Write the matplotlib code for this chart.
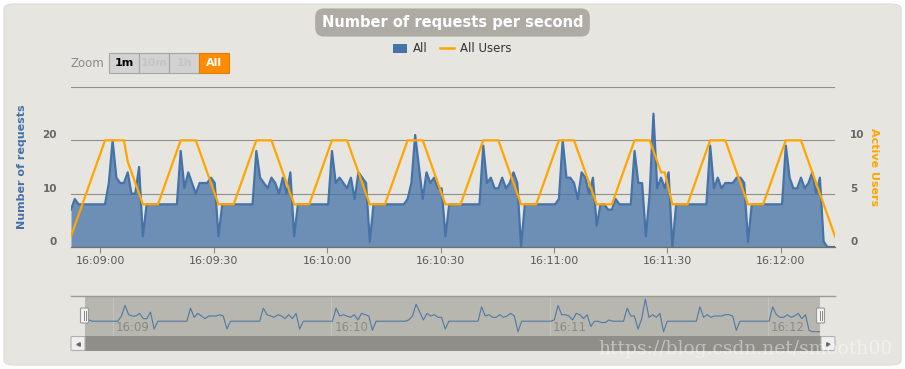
import numpy as np
import matplotlib
matplotlib.use('Agg')
import matplotlib.pyplot as plt
from matplotlib.patches import FancyBboxPatch, Rectangle, Patch
from matplotlib.lines import Line2D
from matplotlib.transforms import ScaledTranslation

# requests per second ("All"), one value per second
requests = [7, 9, 8, 8, 8, 8, 8, 8, 8, 8,
            12, 20, 13, 12, 12, 14, 10, 10, 15, 2,
            8, 8, 8, 8, 8, 8, 8, 8, 8, 18,
            11, 14, 12, 10, 12, 12, 12, 13, 12, 2,
            8, 8, 8, 8, 8, 8, 8, 8, 8, 18,
            13, 12, 11, 13, 12, 10, 13, 10, 14, 2,
            8, 8, 8, 8, 8, 8, 8, 8, 8, 18,
            12, 13, 12, 11, 13, 9, 14, 13, 12, 1,
            8, 8, 8, 8, 8, 8, 8, 8, 8, 9,
            12, 21, 15, 9, 14, 12, 13, 11, 11, 2,
            8, 8, 8, 8, 8, 8, 8, 8, 8, 19,
            12, 13, 11, 11, 13, 11, 12, 14, 12, 0,
            8, 8, 8, 8, 8, 8, 8, 8, 8, 9,
            20, 13, 13, 12, 9, 14, 13, 10, 13, 4,
            8, 8, 7, 7, 9, 8, 8, 8, 8, 18,
            12, 12, 2, 10, 25, 11, 13, 11, 14, 0,
            8, 8, 8, 8, 8, 8, 8, 8, 8, 19,
            11, 13, 11, 12, 12, 12, 13, 13, 12, 1,
            8, 8, 8, 8, 8, 8, 8, 8, 8, 19,
            13, 11, 11, 13, 11, 12, 14, 10, 13, 1,
            0, 0, 0]

# active users ("All Users")
users = [1, 2, 3, 4, 5, 6, 7, 8, 9, 10,
         10, 10, 10, 10, 10, 8, 7, 6, 5, 4,
         4, 4, 4, 4, 5, 6, 7, 8, 9, 10,
         10, 10, 10, 10, 9, 8, 7, 6, 5, 4,
         4, 4, 4, 4, 5, 6, 7, 8, 9, 10,
         10, 10, 10, 10, 9, 8, 7, 6, 5, 4,
         4, 4, 4, 4, 5, 6, 7, 8, 9, 10,
         10, 10, 10, 10, 9, 8, 7, 6, 5, 4,
         4, 4, 4, 4, 5, 6, 7, 8, 9, 10,
         10, 10, 10, 10, 9, 8, 7, 6, 5, 4,
         4, 4, 4, 4, 5, 6, 7, 8, 9, 10,
         10, 10, 10, 10, 9, 8, 7, 6, 5, 4,
         4, 4, 4, 4, 5, 6, 7, 8, 9, 10,
         10, 10, 10, 10, 9, 8, 7, 6, 5, 4,
         4, 4, 4, 4, 5, 6, 7, 8, 9, 10,
         10, 10, 10, 10, 9, 8, 7, 7, 5.5, 4,
         4, 4, 4, 4, 5, 6, 7, 8, 9, 10,
         10, 10, 10, 10, 9, 8, 7, 6, 5, 4,
         4, 4, 4, 4, 5, 6, 7, 8, 9, 10,
         10, 10, 10, 10, 9, 8, 7, 6, 5, 4,
         3, 2, 1]

# seconds relative to 16:09:00 of the first sample
start_offset = -7.7
tick_seconds = [0, 30, 60, 90, 120, 150, 180]
tick_labels = ['16:09:00', '16:09:30', '16:10:00', '16:10:30',
               '16:11:00', '16:11:30', '16:12:00']
nav_seconds = [0, 60, 120, 180]
nav_labels = ['16:09', '16:10', '16:11', '16:12']
left_ticks = [0, 10, 20]
right_ticks = [0, 5, 10]
zoom_buttons = ['1m', '10m', '1h', 'All']

t = start_offset + np.arange(len(requests))

W, H = 905, 369
BG = '#e6e5e0'
BLUE = '#4572a7'
ORANGE = '#ffa500'


def fx(x):
    return x / W


def fy(y):
    return 1 - y / H


fig = plt.figure(figsize=(W / 100, H / 100), dpi=100, facecolor='white')

# card background
fig.add_artist(FancyBboxPatch((fx(4), fy(365)), fx(897), 361 / H,
                              boxstyle='round,pad=0,rounding_size=0.012',
                              transform=fig.transFigure, fc=BG, ec='#dcdbd6', lw=0.8,
                              zorder=-10))

# main chart
ax = fig.add_axes([fx(71), fy(247), 764 / W, 160 / H])
ax.patch.set_visible(False)
ax.fill_between(t, 0, requests, color=BLUE, alpha=0.75, lw=0)
ax.plot(t, requests, color=BLUE, lw=1.6)
ax.set_xlim(t[0], t[-1])
ax.set_ylim(0, 30)
ax.set_yticks(left_ticks + [30])
ax.set_yticklabels([str(v) for v in left_ticks] + [''])
ax.set_xticks(tick_seconds)
ax.set_xticklabels(tick_labels)
ax.yaxis.grid(True, color='#8f8f8f', lw=0.8)
ax.set_axisbelow(True)
for s in ['top', 'left', 'right']:
    ax.spines[s].set_visible(False)
ax.spines['bottom'].set_color('#6e6e6e')
ax.spines['bottom'].set_linewidth(0.9)
ax.tick_params(axis='x', length=4.3, width=0.8, color='#8a8a8a', pad=2,
               labelsize=8, labelcolor='#5a5a5a')
ax.tick_params(axis='y', length=0, pad=10, labelsize=7.5, labelcolor='#666666')
for lbl in ax.get_yticklabels():
    lbl.set_fontweight('bold')
ax.set_ylabel('Number of requests', color=BLUE, fontsize=8, fontweight='bold', labelpad=0)
ax.yaxis.set_label_coords(-(71 - 27) / 764, 0.5)

ax2 = ax.twinx()
ax2.plot(t, users, color=ORANGE, lw=1.6)
ax2.set_ylim(0, 15)
ax2.set_yticks(right_ticks + [15])
ax2.set_yticklabels([str(v) for v in right_ticks] + [''])
for s in ['top', 'left', 'right', 'bottom']:
    ax2.spines[s].set_visible(False)
ax2.tick_params(axis='y', length=0, pad=11, labelsize=7.5, labelcolor='#666666')
for lbl in ax2.get_yticklabels():
    lbl.set_fontweight('bold')
ax2.set_ylabel('Active Users', color=ORANGE, fontsize=8, fontweight='bold', rotation=270)
ax2.yaxis.set_label_coords(1 + (879 - 835) / 764, 0.5)

# y labels sit a little above their grid lines
up = ScaledTranslation(0, 6 / 100, fig.dpi_scale_trans)
for lbl in ax.get_yticklabels() + ax2.get_yticklabels():
    lbl.set_transform(lbl.get_transform() + up)

# title
fig.text(fx(452.5), fy(22.5), 'Number of requests per second', ha='center', va='center',
         fontsize=10.5, fontweight='bold', color='white',
         bbox=dict(boxstyle='round,pad=0.45,rounding_size=0.6', fc='#adaba4', ec='none'))

# legend
handles = [Patch(fc=BLUE, ec='none'), Line2D([], [], color=ORANGE, lw=1.8)]
leg = fig.legend(handles, ['All', 'All Users'], loc='center', bbox_to_anchor=(fx(452), fy(49)),
                 ncol=2, frameon=False, fontsize=8.5, handlelength=1.2, handleheight=0.85,
                 handletextpad=0.5, columnspacing=1.0, borderpad=0)
for txt in leg.get_texts():
    txt.set_color('#333333')

# zoom buttons
fig.text(fx(104), fy(63.5), 'Zoom', ha='right', va='center', fontsize=8.5, color='#8a8a8a')
for i, name in enumerate(zoom_buttons):
    x0 = 109 + i * 30
    active = name == 'All'
    fig.add_artist(Rectangle((fx(x0), fy(73)), 30 / W, 20 / H, transform=fig.transFigure,
                             fc='#ff8c00' if active else '#d2d2d0',
                             ec='#e08000' if active else '#a5a5a3', lw=0.8))
    if active:
        col = 'white'
    elif name == '1m':
        col = 'black'
    else:
        col = '#c4c4c2'
    fig.text(fx(x0 + 15), fy(63), name, ha='center', va='center', fontsize=8,
             fontweight='bold', color=col)

# navigator
nav = fig.add_axes([fx(85), fy(336), 735 / W, 40 / H])
nav.set_facecolor('#b7b6af')
nav.plot(t, requests, color=BLUE, lw=0.8, alpha=0.9)
nav.set_xlim(t[0], t[-1])
nav.set_ylim(-3.3, 27.3)
for s in nav.spines.values():
    s.set_visible(False)
nav.set_xticks([])
nav.set_yticks([])
shift = ScaledTranslation(3 / 100, 0, fig.dpi_scale_trans)
for sec, name in zip(nav_seconds, nav_labels):
    nav.axvline(sec, color='#c3c2bc', lw=0.8, zorder=0)
    nav.text(sec, 0.22, name, transform=nav.get_xaxis_transform() + shift,
             ha='left', va='center', fontsize=8.5, color='#8a8983')

fig.add_artist(Line2D([fx(71), fx(835)], [fy(296), fy(296)], transform=fig.transFigure,
                      color='#9a9a96', lw=1))

# navigator handles
for hx in [84.5, 820.5]:
    fig.add_artist(FancyBboxPatch((fx(hx - 4), fy(323)), 8 / W, 15 / H,
                                  boxstyle='round,pad=0,rounding_size=0.002',
                                  transform=fig.transFigure, fc='#f2f2f2', ec='#999999', lw=0.8))
    for dx in [-1, 1]:
        fig.add_artist(Line2D([fx(hx + dx), fx(hx + dx)], [fy(311), fy(320)],
                              transform=fig.transFigure, color='#888888', lw=0.7))

# scrollbar
fig.add_artist(Rectangle((fx(84), fy(351)), 737 / W, 15 / H, transform=fig.transFigure,
                         fc='#8f8e89', ec='none'))
for bx, mk in [(71, '<'), (821, '>')]:
    fig.add_artist(FancyBboxPatch((fx(bx), fy(350.5)), 14 / W, 14 / H,
                                  boxstyle='round,pad=0,rounding_size=0.002',
                                  transform=fig.transFigure, fc='#efefef', ec='#b0b0b0', lw=0.8))
    fig.add_artist(Line2D([fx(bx + 7)], [fy(343.5)], transform=fig.transFigure,
                          marker=mk, ms=2.5, color='#666666', lw=0))

# watermark
fig.text(fx(893), fy(349), 'https://blog.csdn.net/smooth00', ha='right', va='center',
         fontsize=13.5, family='DejaVu Serif', color='white', alpha=0.45)

fig.savefig('out.png', dpi=100, facecolor='white')
